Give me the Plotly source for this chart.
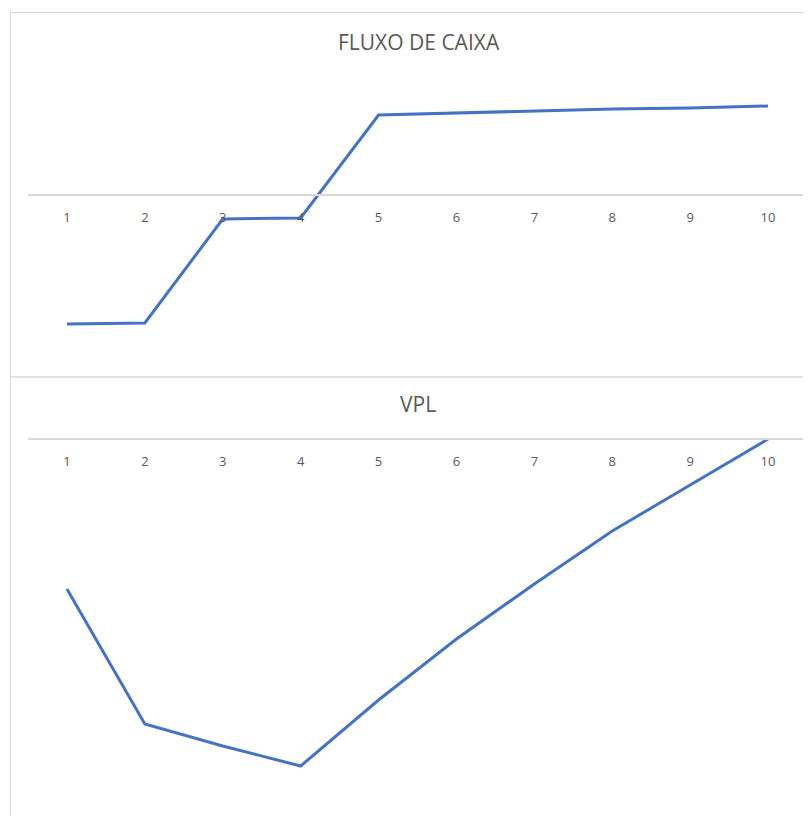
import plotly.graph_objects as go

W, H = 811, 816
OFF = 8  # default page body margin

periodos = [1, 2, 3, 4, 5, 6, 7, 8, 9, 10]
rotulos = ["1", "2", "3", "4", "5", "6", "7", "8", "9", "10"]
fluxo_caixa = [-129, -128, -24, -23, 80, 82, 84, 86, 87, 89]
vpl = [-150, -285, -307, -327, -261, -200, -145, -92, -46, 0]

LINE = "#4472C4"
GRID = "#d9d9d9"
TXT = "#595959"
FONT = "Open Sans, Liberation Sans, sans-serif"

def px(x):
    return (x - OFF) / W

def py(y):
    return 1 - (y - OFF) / H

fig = go.Figure()
fig.add_trace(go.Scatter(x=periodos, y=fluxo_caixa, mode="lines",
                         line=dict(color=LINE, width=3), xaxis="x", yaxis="y",
                         showlegend=False, hoverinfo="x+y"))
fig.add_trace(go.Scatter(x=periodos, y=vpl, mode="lines",
                         line=dict(color=LINE, width=3), xaxis="x2", yaxis="y2",
                         showlegend=False, hoverinfo="x+y"))

z1 = 195
a1, b1 = 60, 350
z2 = 439
a2, b2 = 425, 805

xdom = [px(28), px(807)]
common_x = dict(range=[0.5, 10.5], tickvals=periodos, ticktext=rotulos,
                showgrid=False, zeroline=False, showline=True, linecolor=GRID,
                linewidth=1.5, ticks="", ticklen=0, ticklabelstandoff=11,
                tickfont=dict(family=FONT, size=13, color=TXT), fixedrange=True)

fig.update_layout(
    width=W, height=H,
    margin=dict(l=0, r=0, t=0, b=0),
    paper_bgcolor="white", plot_bgcolor="rgba(0,0,0,0)",
    xaxis=dict(domain=xdom, anchor="free", position=py(z1), **common_x),
    yaxis=dict(domain=[py(b1), py(a1)], range=[z1 - b1, z1 - a1],
               visible=False, showgrid=False, zeroline=False),
    xaxis2=dict(domain=xdom, anchor="free", position=py(z2), **common_x),
    yaxis2=dict(domain=[py(b2), py(a2)], range=[z2 - b2, z2 - a2],
                visible=False, showgrid=False, zeroline=False),
    shapes=[
        dict(type="rect", xref="paper", yref="paper",
             x0=px(10.5), x1=px(840), y0=py(377), y1=py(12.5),
             line=dict(color=GRID, width=1), layer="below"),
        dict(type="rect", xref="paper", yref="paper",
             x0=px(10.5), x1=px(840), y0=py(850), y1=py(377),
             line=dict(color=GRID, width=1), layer="below"),
    ],
    annotations=[
        dict(text="FLUXO DE CAIXA", x=px(418.5), y=py(42), xref="paper", yref="paper",
             showarrow=False, xanchor="center", yanchor="middle",
             font=dict(family=FONT, size=21, color=TXT)),
        dict(text="VPL", x=px(418), y=py(404), xref="paper", yref="paper",
             showarrow=False, xanchor="center", yanchor="middle",
             font=dict(family=FONT, size=21, color=TXT)),
    ],
)

fig.write_html("out.html")
